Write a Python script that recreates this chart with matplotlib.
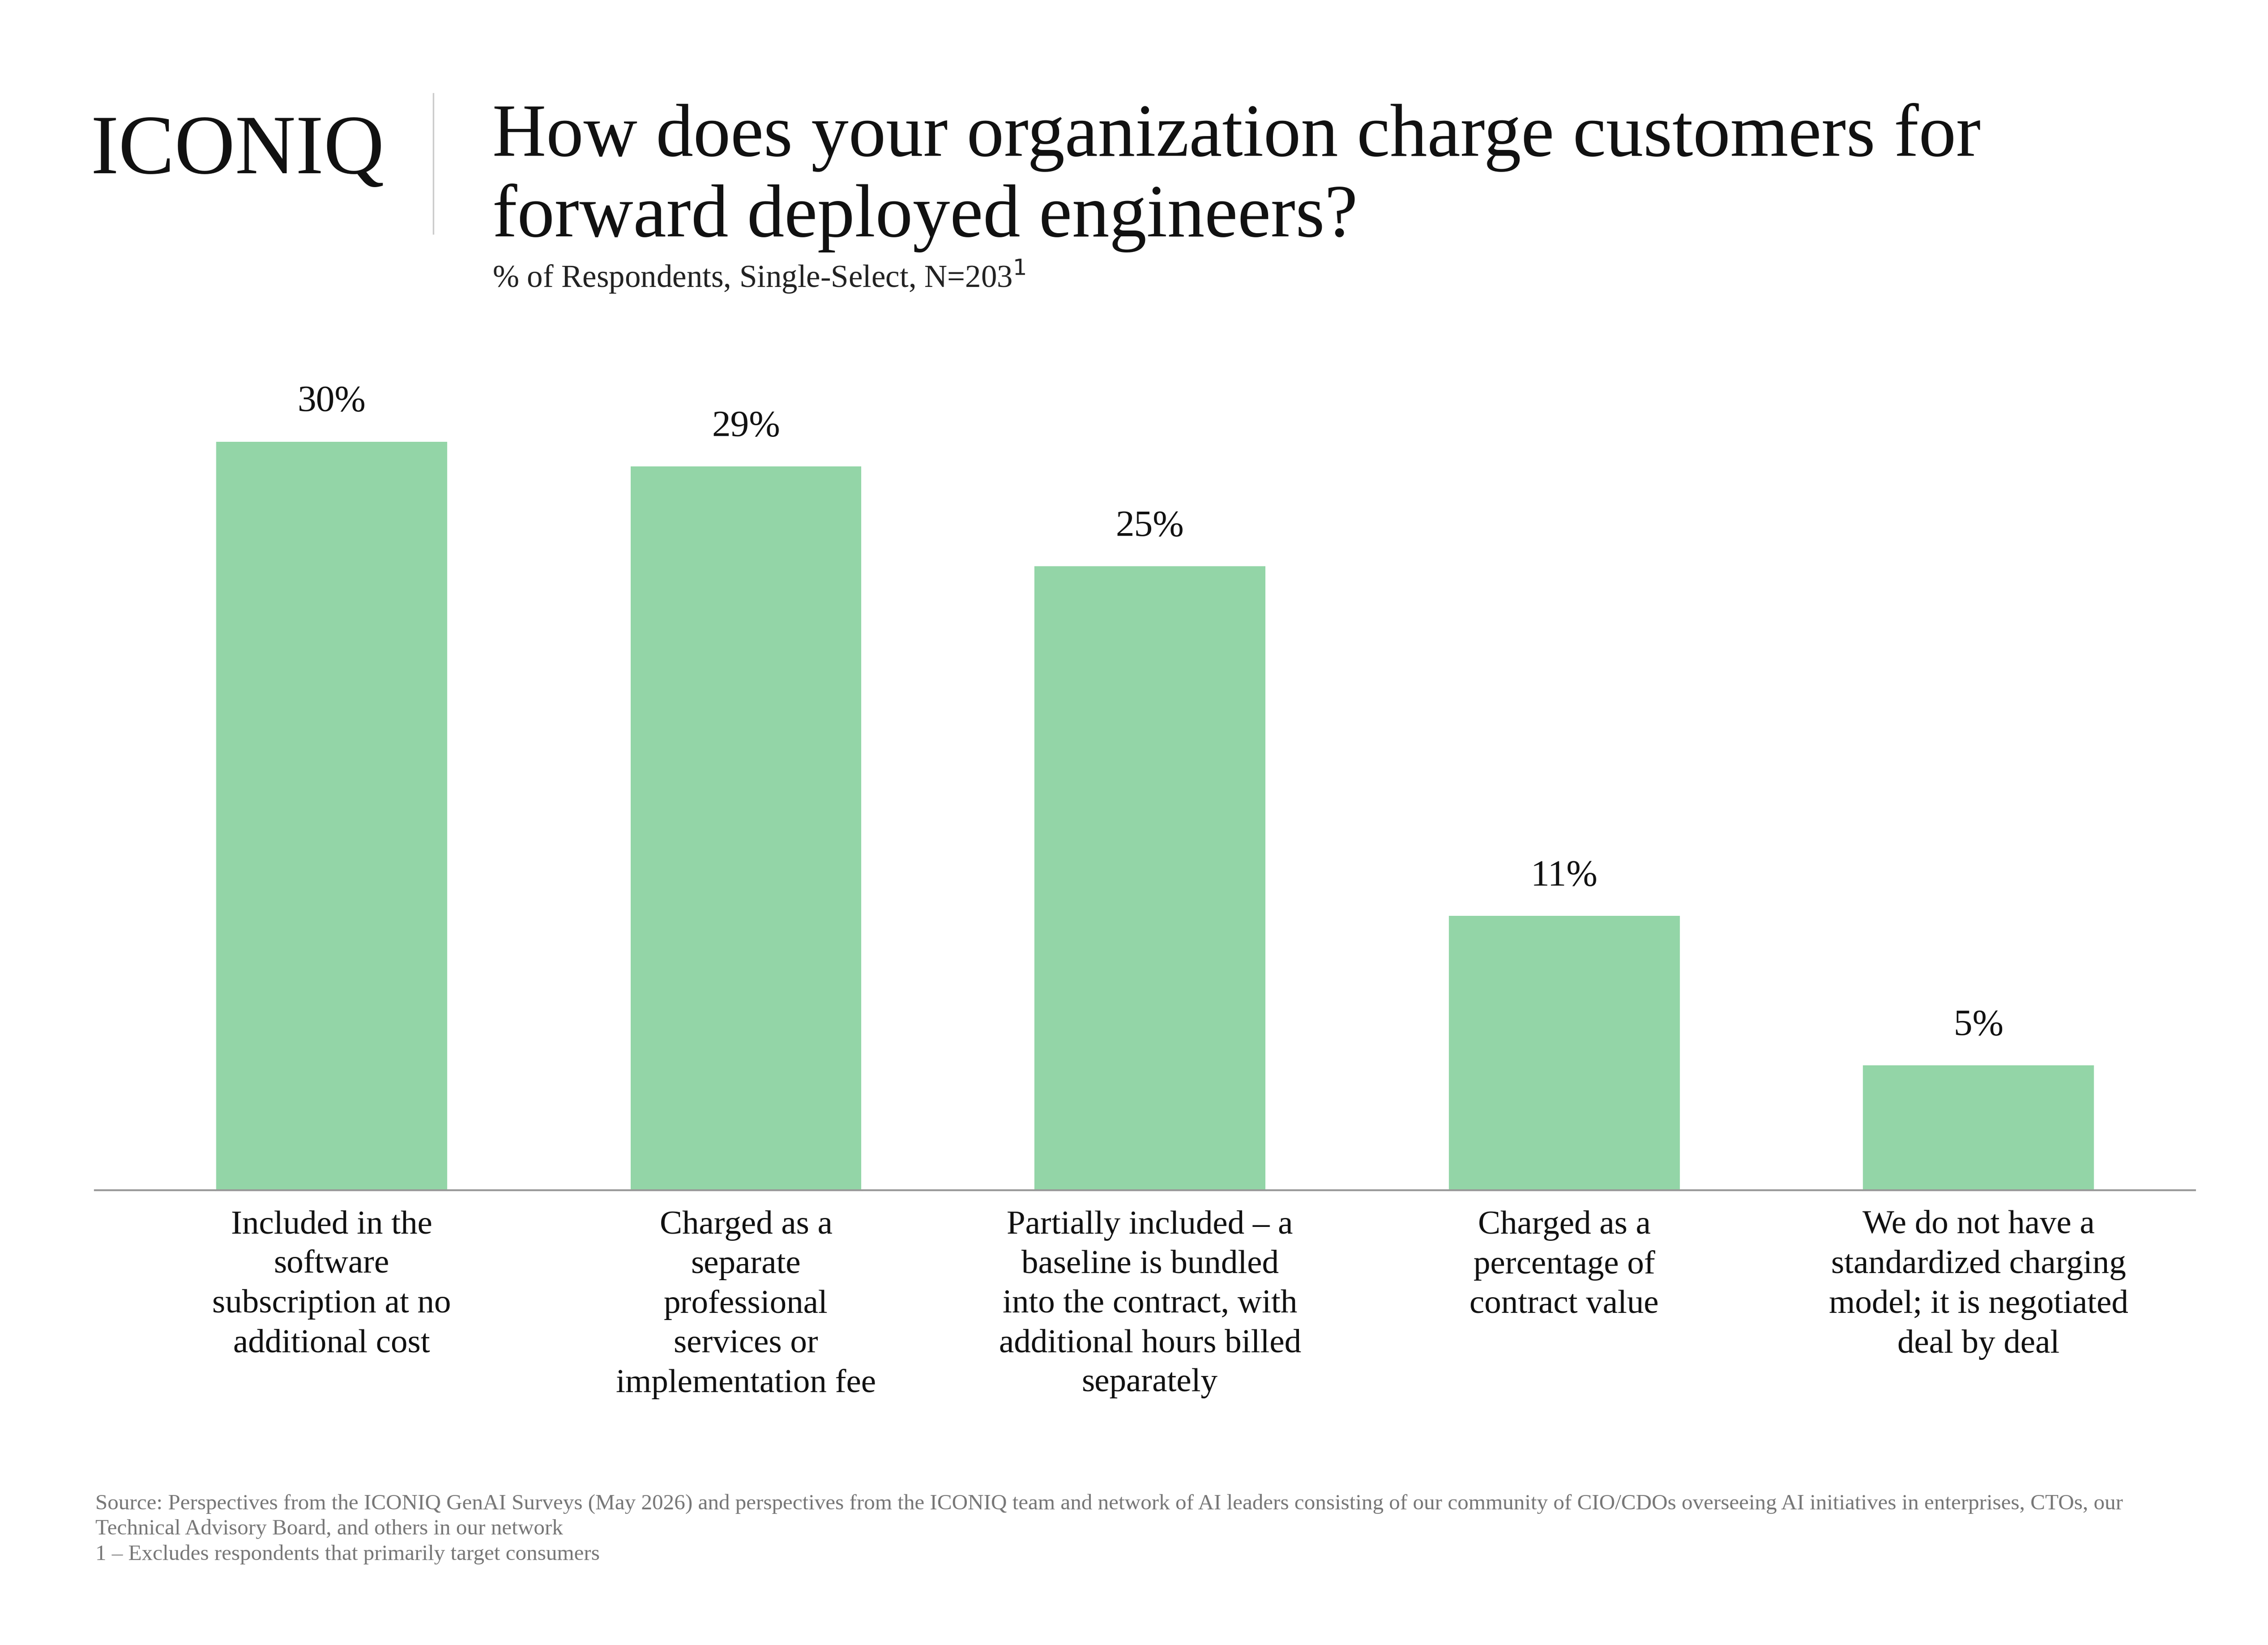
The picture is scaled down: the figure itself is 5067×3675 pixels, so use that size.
import matplotlib.pyplot as plt

categories = [
    "Included in the\nsoftware\nsubscription at no\nadditional cost",
    "Charged as a\nseparate\nprofessional\nservices or\nimplementation fee",
    "Partially included – a\nbaseline is bundled\ninto the contract, with\nadditional hours billed\nseparately",
    "Charged as a\npercentage of\ncontract value",
    "We do not have a\nstandardized charging\nmodel; it is negotiated\ndeal by deal",
]
values = [30, 29, 25, 11, 5]
positions = [0, 1.005, 1.985, 2.99, 3.995]

plt.rcParams['font.family'] = ['Liberation Serif', 'DejaVu Serif']
fig = plt.figure(figsize=(5067 / 300, 3675 / 300), dpi=300)
ax = fig.add_axes([0.0419, 0.2764, 0.9259, 0.5014])

ax.bar(positions, values, width=0.56, color="#93D5A7")
for x, v in zip(positions, values):
    ax.text(x, v + 0.9, f"{v}%", ha="center", va="bottom", fontsize=20, color="#111111")
for x, c in zip(positions, categories):
    ax.text(x, -0.8, c, ha="center", va="top", fontsize=18, color="#111111", linespacing=1.4)

ax.set_xlim(-0.574, 4.52)
ax.set_ylim(0, 33.05)
for s in ["top", "right", "left"]:
    ax.spines[s].set_visible(False)
ax.spines["bottom"].set_color("#999999")
ax.spines["bottom"].set_linewidth(1)
ax.set_xticks([])
ax.set_yticks([])

fig.text(0.040, 0.907, "ICONIQ", fontsize=45, va="center", ha="left", color="#111111")
fig.add_artist(plt.Line2D([0.191, 0.191], [0.858, 0.943], color="#cccccc", lw=0.8))
fig.text(0.217, 0.892, "How does your organization charge customers for\nforward deployed engineers?",
         fontsize=40, va="center", ha="left", color="#111111", linespacing=1.22)
fig.text(0.217, 0.832, "% of Respondents, Single-Select, N=203$^{1}$", fontsize=17,
         va="center", ha="left", color="#222222")
fig.text(0.042, 0.092,
         "Source: Perspectives from the ICONIQ GenAI Surveys (May 2026) and perspectives from the ICONIQ team and network of AI leaders consisting of our community of CIO/CDOs overseeing AI initiatives in enterprises, CTOs, our\n"
         "Technical Advisory Board, and others in our network\n"
         "1 – Excludes respondents that primarily target consumers",
         fontsize=11.8, va="top", ha="left", color="#777777", linespacing=1.35)

fig.savefig("out.png", dpi=300, facecolor="white")
